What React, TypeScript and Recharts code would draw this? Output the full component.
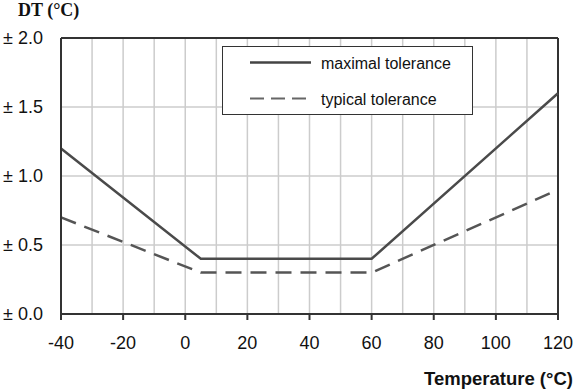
import React from 'react';
import { LineChart, Line, XAxis, YAxis, CartesianGrid, ReferenceLine } from 'recharts';

const temperatures = [-40, 5, 60, 120];
const maximalTolerance = [1.2, 0.4, 0.4, 1.6];
const typicalTolerance = [0.7, 0.3, 0.3, 0.9];
const xTicks = [-40, -20, 0, 20, 40, 60, 80, 100, 120];
const yTicks = [0, 0.5, 1.0, 1.5, 2.0];
const gridX = [-40, -30, -20, -10, 0, 10, 20, 30, 40, 50, 60, 70, 80, 90, 100, 110, 120];
const legendLabels = ['maximal tolerance', 'typical tolerance'];

const data = temperatures.map((t, i) => ({ t, max: maximalTolerance[i], typ: typicalTolerance[i] }));

const SANS = 'Arial, "Liberation Sans", sans-serif';

const LegendBox = () => (
  <div style={{ position: 'absolute', left: 222, top: 46, width: 249, height: 67, border: '1.5px solid #333', background: '#fff' }}>
    <svg width={249} height={67} style={{ position: 'absolute', left: 0, top: 0 }}>
      <line x1={27} x2={88} y1={15.5} y2={15.5} stroke="#444" strokeWidth={2.5} />
      <line x1={27} x2={88} y1={51.5} y2={51.5} stroke="#666" strokeWidth={2} strokeDasharray="14 7" />
      <text x={98} y={22} fontSize={16} fill="#111" fontFamily={SANS}>{legendLabels[0]}</text>
      <text x={98} y={57.5} fontSize={16} fill="#111" fontFamily={SANS}>{legendLabels[1]}</text>
    </svg>
  </div>
);

export default function App() {
  return (
    <div style={{ position: 'absolute', left: 0, top: 0, width: 579, height: 392, background: '#fff' }}>
      <LineChart width={579} height={392} data={data} margin={{ top: 38, right: 21, bottom: 0, left: 0 }}>
        <CartesianGrid stroke="#cccccc" strokeWidth={1.5} verticalValues={gridX} horizontalValues={yTicks} />
        <XAxis
          dataKey="t"
          type="number"
          domain={[-40, 120]}
          ticks={xTicks}
          height={78}
          tickSize={6}
          stroke="#333"
          axisLine={{ stroke: '#333', strokeWidth: 2 }}
          tickLine={{ stroke: '#333', strokeWidth: 2 }}
          tick={{ fill: '#111', fontSize: 18, fontFamily: SANS }}
          tickMargin={16}
          interval={0}
        />
        <YAxis
          type="number"
          domain={[0, 2]}
          ticks={yTicks}
          width={61}
          tickLine={false}
          axisLine={{ stroke: '#333', strokeWidth: 2 }}
          tick={{ fill: '#111', fontSize: 18, fontFamily: SANS, dx: -12 }}
          tickFormatter={(v: number) => '± ' + v.toFixed(1)}
          tickMargin={0}
        />
        <ReferenceLine y={2} stroke="#333" strokeWidth={2} />
        <ReferenceLine x={120} stroke="#333" strokeWidth={2} />
        <Line type="linear" dataKey="typ" stroke="#555" strokeWidth={2.5} strokeDasharray="16 9" dot={false} isAnimationActive={false} />
        <Line type="linear" dataKey="max" stroke="#4a4a4a" strokeWidth={2.5} dot={false} isAnimationActive={false} />
      </LineChart>
      <LegendBox />
      <div style={{ position: 'absolute', left: 18, top: 1, lineHeight: '18px', fontFamily: '"Liberation Serif", "Times New Roman", serif', fontWeight: 'bold', fontSize: 18, color: '#111', whiteSpace: 'nowrap' }}>DT (°C)</div>
      <div style={{ position: 'absolute', left: 424, top: 370, lineHeight: '18.5px', fontFamily: SANS, fontWeight: 'bold', fontSize: 18.5, color: '#111', whiteSpace: 'nowrap' }}>Temperature (°C)</div>
    </div>
  );
}
